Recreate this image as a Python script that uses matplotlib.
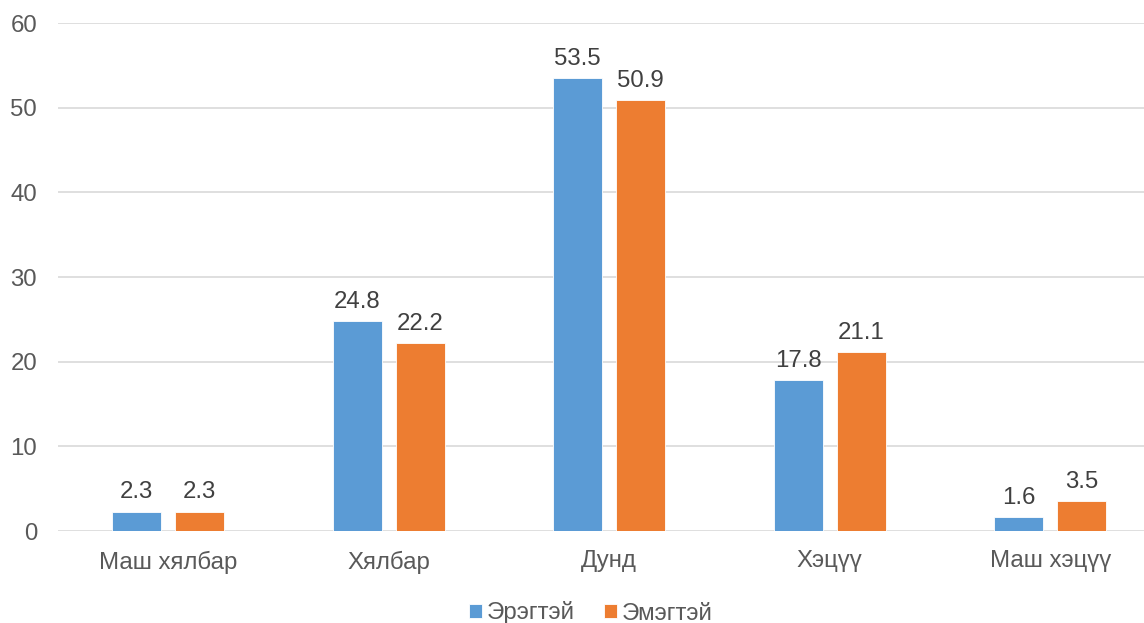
import matplotlib
matplotlib.use("Agg")
import matplotlib.pyplot as plt
import numpy as np

categories = ["Маш хялбар", "Хялбар", "Дунд", "Хэцүү", "Маш хэцүү"]
male = [2.3, 24.8, 53.5, 17.8, 1.6]
female = [2.3, 22.2, 50.9, 21.1, 3.5]
series_names = ["Эрэгтэй", "Эмэгтэй"]
yticks = [0, 10, 20, 30, 40, 50, 60]

plt.rcParams["font.family"] = ["Liberation Sans", "DejaVu Sans"]
text_color = "#595959"
blue = "#5B9BD5"
orange = "#ED7D31"
fs = 17.3

W, H = 1144, 623
fig = plt.figure(figsize=(W / 100, H / 100), dpi=100)
left, right = 58, 1144
top, bottom = 23, 531
ax = fig.add_axes([left / W, 1 - bottom / H, (right - left) / W, (bottom - top) / H])

x = np.arange(len(categories))
width = 0.222
off = 0.143
b1 = ax.bar(x - off, male, width, color=blue, edgecolor="white", linewidth=0.6, label=series_names[0], zorder=3)
b2 = ax.bar(x + off, female, width, color=orange, edgecolor="white", linewidth=0.6, label=series_names[1], zorder=3)

for bars, vals in ((b1, male), (b2, female)):
    for rect, v in zip(bars, vals):
        ax.annotate(f"{v:.1f}", (rect.get_x() + rect.get_width() / 2, v),
                    xytext=(0, 6), textcoords="offset points", ha="center", va="bottom",
                    fontsize=fs, color="#404040")

cat_w = 220.5
ax.set_xlim(-0.5, -0.5 + (right - left) / cat_w)
ax.set_ylim(0, 60)
ax.set_yticks(yticks)
ax.set_xticks(x)
ax.set_xticklabels(categories)
ax.tick_params(axis="both", length=0, labelsize=fs, colors=text_color)
ax.tick_params(axis="x", pad=14)
ax.tick_params(axis="y", pad=15)
ax.grid(axis="y", color="#D9D9D9", linewidth=1.2, zorder=0)
for s in ax.spines.values():
    s.set_visible(False)

leg = fig.legend(handles=[b1, b2], labels=series_names, loc="center",
                 bbox_to_anchor=(591 / W, 1 - 613 / H), ncol=2, frameon=False,
                 fontsize=fs, handlelength=0.55, handleheight=0.55, handletextpad=0.2,
                 columnspacing=1.2)
for t in leg.get_texts():
    t.set_color(text_color)

fig.savefig("out.png", dpi=100)
